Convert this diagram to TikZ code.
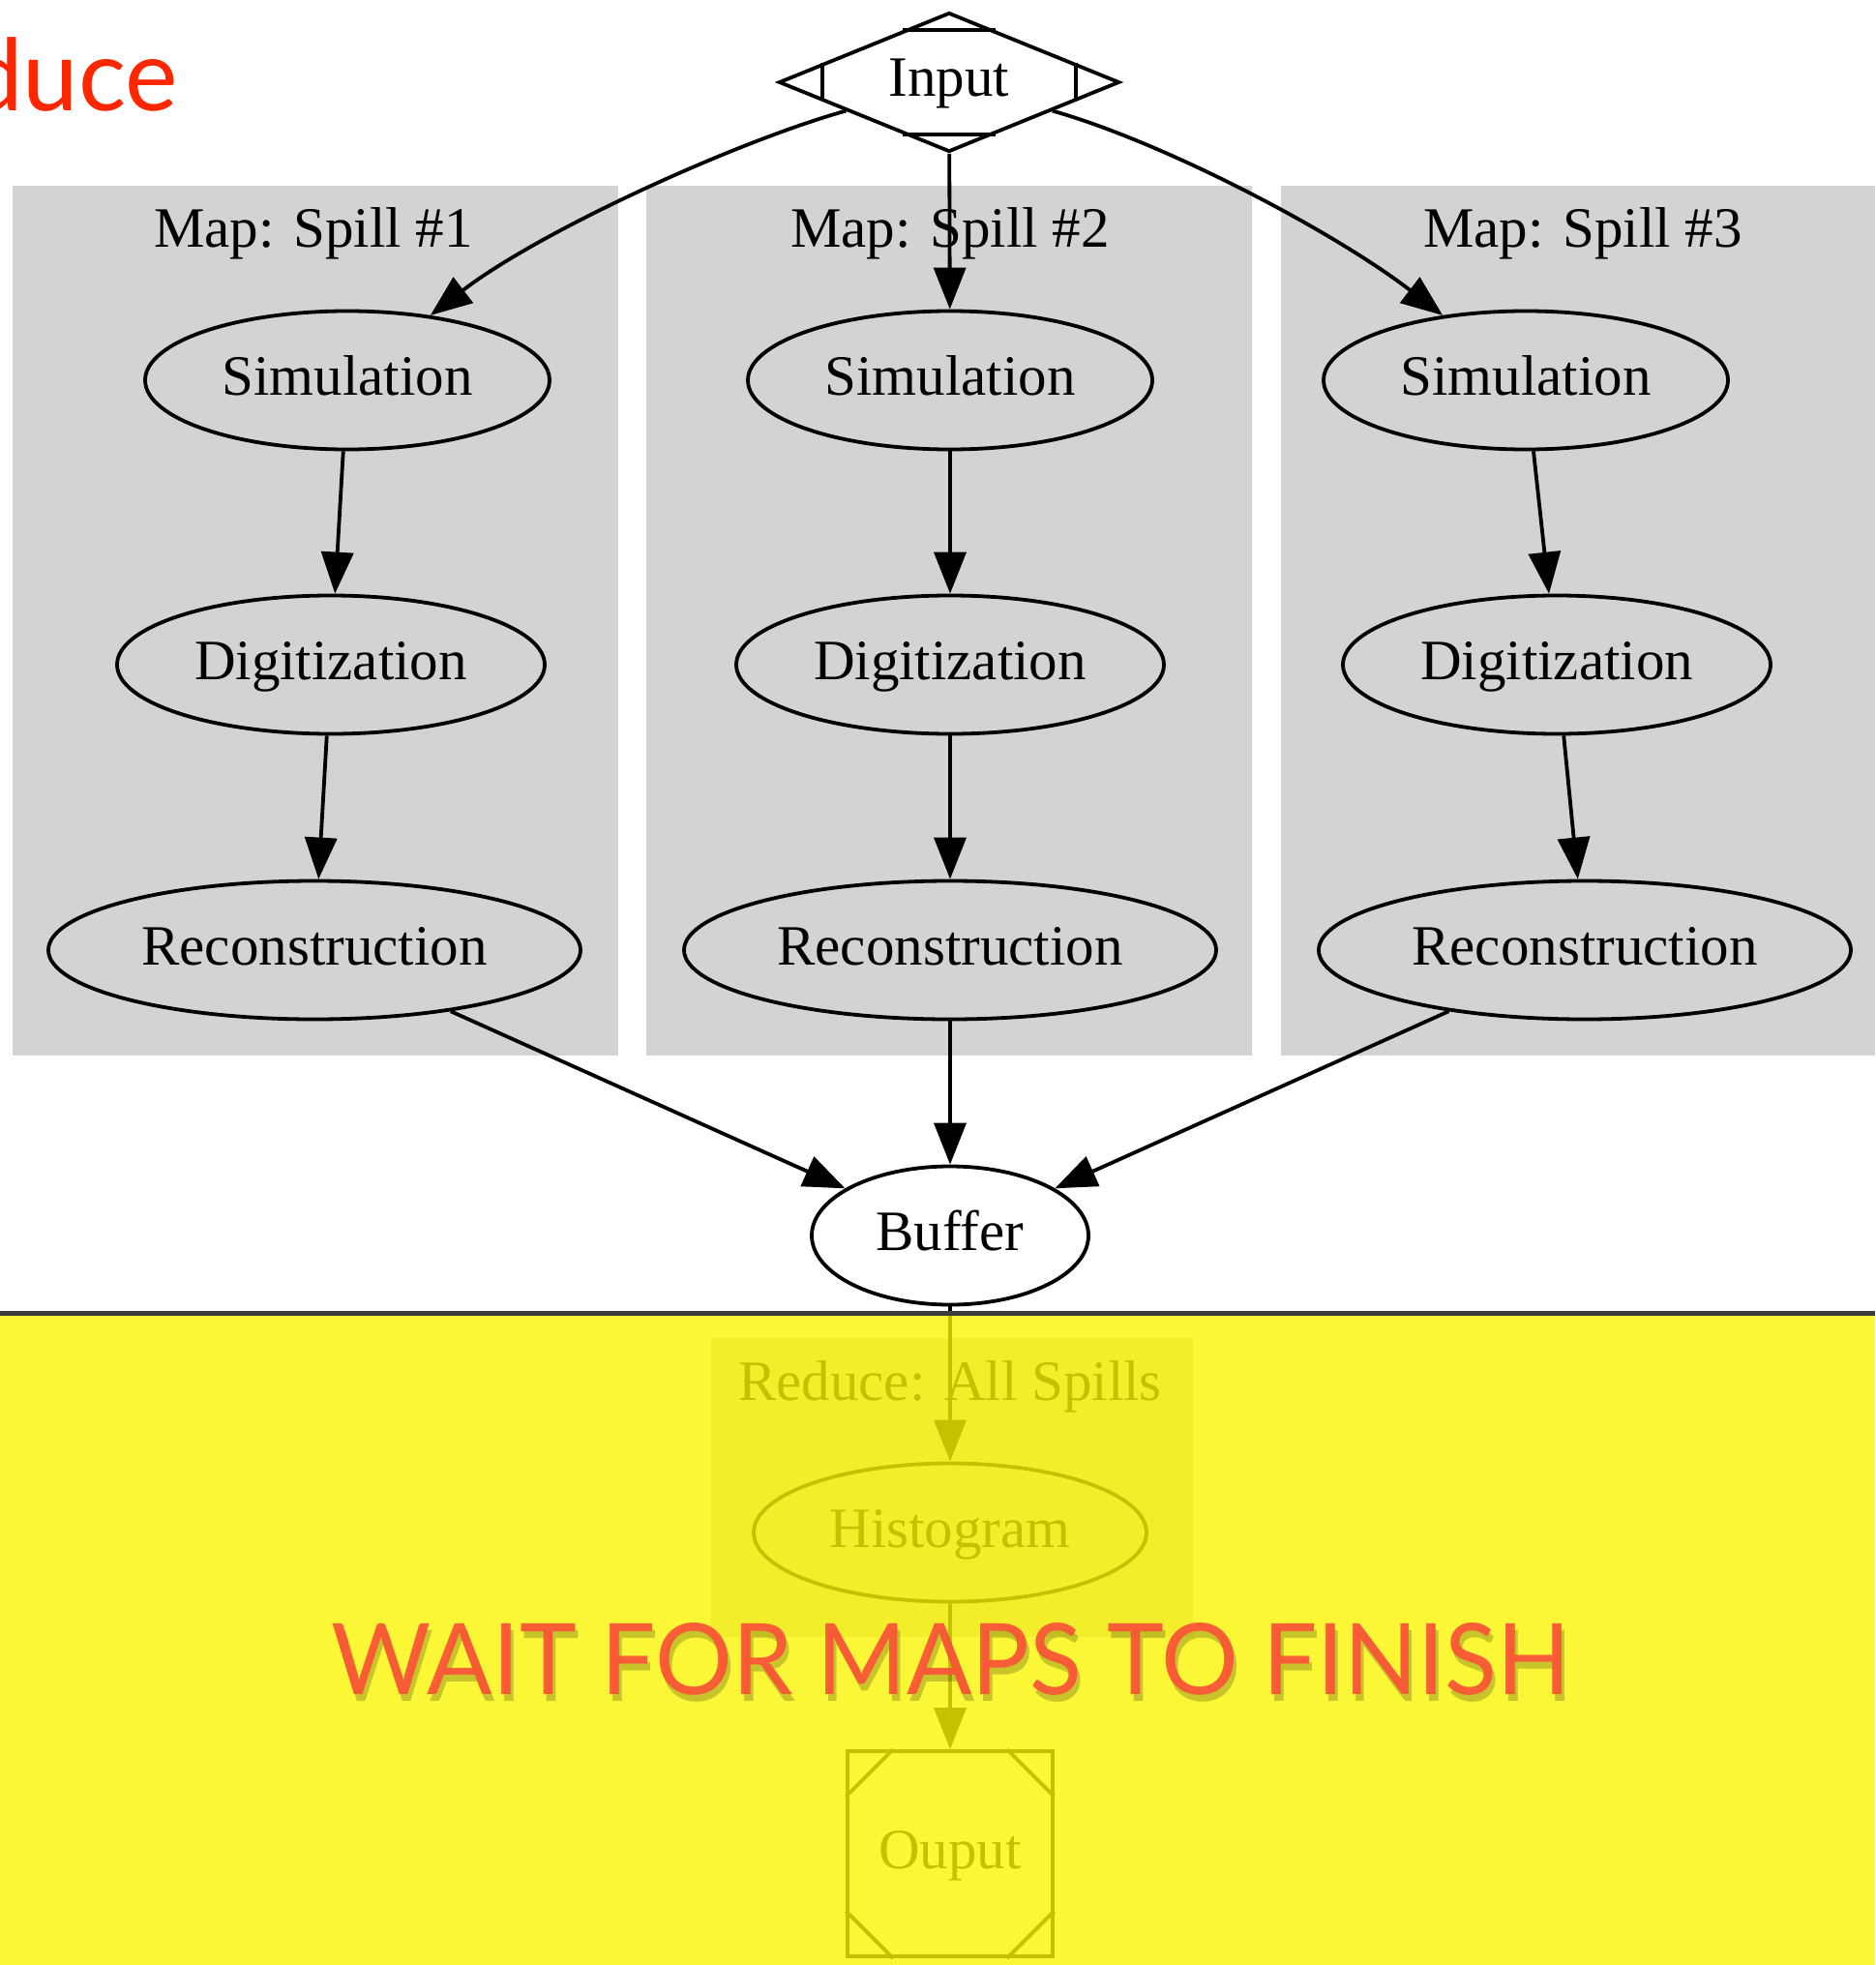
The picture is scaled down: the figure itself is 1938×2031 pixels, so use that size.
\documentclass[tikz,border=0pt]{standalone}
\usepackage{fontspec}
\setmainfont{Liberation Serif}
\newfontfamily\slidefont{Lato}
\usetikzlibrary{shapes.geometric,arrows.meta,calc,positioning}
\definecolor{clustergray}{RGB}{211,211,211}
\definecolor{veil}{RGB}{251,246,0}
\definecolor{titlered}{RGB}{255,38,0}
\definecolor{waitred}{RGB}{250,82,56}
\definecolor{rulegray}{RGB}{60,60,60}

\begin{document}
\begin{tikzpicture}[x=1pt,y=-1pt,
  lbl/.style={font=\fontsize{59}{59}\selectfont,text height=42pt,text depth=12pt},
  stage/.style={draw,ellipse,line width=3.8pt,inner sep=0pt,minimum height=143pt,lbl},
  edge/.style={line width=3.8pt,-{Triangle[length=43pt,width=33pt]}}]
  \useasboundingbox (0,0) rectangle (1938,2031);
  \fill[white] (0,0) rectangle (1938,2031);

  % title, cut by the page edge
  \node[text=titlered,anchor=base east,inner sep=0pt,font=\slidefont\fontsize{103}{103}\selectfont] (title) at (184,114) {duce};

  % input and buffer
  \node[draw,diamond,shape aspect=2.4,line width=3.8pt,inner sep=0pt,
        minimum width=352pt,minimum height=144pt,lbl] (in) at (981,85) {Input};
  \draw[line width=3.8pt] ($(in.west)+(47,-19.5)$) -- ($(in.west)+(47,19.5)$);
  \draw[line width=3.8pt] ($(in.east)+(-47,-19.5)$) -- ($(in.east)+(-47,19.5)$);
  \draw[line width=3.8pt] ($(in.north)+(-48,20)$) -- ($(in.north)+(48,20)$);
  \draw[line width=3.8pt] ($(in.south)+(-48,-20)$) -- ($(in.south)+(48,-20)$);
  \node[stage,minimum width=286pt] (buf) at (982,1277) {Buffer};

  % the three map clusters
  \foreach \i/\xa/\xb/\lx/\sx/\dx/\rx in {1/13/639/324/359/342/325,
      2/668/1294/982/982/982/982, 3/1324/1938/1636/1577/1609/1638} {
    \fill[clustergray] (\xa,192) rectangle (\xb,1091);
    \node[lbl] (map\i) at (\lx,240) {Map: Spill \#\i};
    \node[stage,minimum width=418pt] (sim\i) at (\sx,393) {Simulation};
    \node[stage,minimum width=442pt] (dig\i) at (\dx,687) {Digitization};
    \node[stage,minimum width=550pt] (rec\i) at (\rx,982) {Reconstruction};
    \draw[edge] (sim\i) -- (dig\i);
    \draw[edge] (dig\i) -- (rec\i);
    \draw[edge] (rec\i) -- (buf);
  }
  \draw[edge] ($(in.west)!0.4!(in.south)$) .. controls +(-114,32) and +(113,-87) .. (sim1.38);
  \draw[edge] (in) -- (sim2);
  \draw[edge] ($(in.east)!0.4!(in.south)$) .. controls +(114,32) and +(-113,-87) .. (sim3.142);

  % reduce cluster
  \fill[clustergray] (735,1383) rectangle (1233,1692);
  \node[lbl] (red) at (982,1432) {Reduce: All Spills};
  \node[stage,minimum width=406pt] (hist) at (982,1584) {Histogram};
  \node[draw,rectangle,line width=3.8pt,minimum size=212pt,lbl] (out) at (982,1916) {Ouput};
  \draw[line width=3.8pt] ($(out.north west)+(49,0)$) -- ($(out.north west)+(0,49)$);
  \draw[line width=3.8pt] ($(out.north east)+(-49,0)$) -- ($(out.north east)+(0,49)$);
  \draw[line width=3.8pt] ($(out.south west)+(49,0)$) -- ($(out.south west)+(0,-49)$);
  \draw[line width=3.8pt] ($(out.south east)+(-49,0)$) -- ($(out.south east)+(0,-49)$);
  \draw[edge] (buf) -- (hist);
  \draw[edge] (hist) -- (out);

  % yellow veil over the reduce step
  \fill[veil,opacity=0.79] (0,1360) rectangle (1938,2031);
  \draw[rulegray,line width=5pt] (0,1357) -- (1938,1357);
  \node[text=black,opacity=0.2] (shadow) at (986,1722) {\resizebox{1280pt}{74pt}{\slidefont WAIT FOR MAPS TO FINISH}};
  \node[text=waitred,opacity=0.92] (wait) at (983,1715) {\resizebox{1280pt}{74pt}{\slidefont WAIT FOR MAPS TO FINISH}};
\end{tikzpicture}
\end{document}
